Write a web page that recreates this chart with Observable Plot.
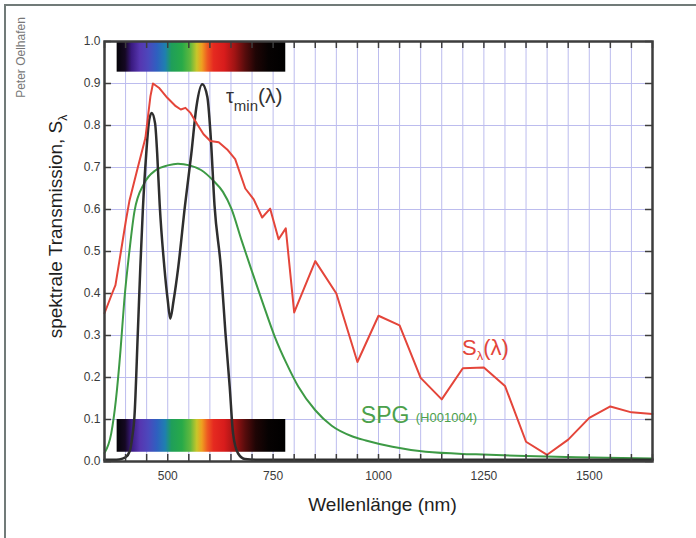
<!DOCTYPE html>
<html><head><meta charset="utf-8">
<script src="https://cdn.jsdelivr.net/npm/d3@7"></script>
<script src="https://cdn.jsdelivr.net/npm/@observablehq/plot@0.6"></script>
<style>
html,body{margin:0;padding:0;background:#fff;}
#wrap{position:relative;width:696px;height:538px;overflow:hidden;background:#fff;}
#wrap svg{position:absolute;left:0;top:0;}
#border{position:absolute;left:4px;top:4px;right:-10px;bottom:-10px;border-top:2px solid #717b79;border-left:2px solid #717b79;pointer-events:none;}
</style>
</head><body>
<div id="wrap"><div id="border"></div></div>
<script>
// ---- data ----
const redNm  = [350,368,376,389,401,409,429,447,459,465,479,499,519,531,542,554,570,585,601,621,641,660,684,704,724,743,763,780,800,850,900,950,1000,1050,1100,1150,1200,1250,1300,1350,1400,1450,1500,1550,1600,1650];
const redVal = [.353,.40,.42,.50,.575,.62,.70,.77,.87,.90,.89,.866,.846,.838,.842,.83,.803,.779,.763,.76,.743,.72,.65,.624,.581,.602,.529,.555,.355,.477,.40,.237,.347,.324,.199,.148,.222,.224,.18,.047,.016,.052,.104,.131,.117,.113];

const tauNm  = [350,385,400,410,416,421,429,435,441,449,456,462,470,475,481,492,500,506,514,525,541,556,568,582,594,602,611,626,637,647,655,667,683,720,1650];
const tauVal = [.004,.005,.01,.025,.06,.106,.305,.463,.60,.733,.813,.83,.805,.733,.61,.463,.384,.34,.384,.463,.61,.733,.844,.898,.868,.773,.61,.463,.305,.178,.067,.019,.006,.004,.004];

const spgNm  = [350,366,377,388,397,409,421,444,472,500,524,552,579,607,631,651,675,699,726,754,782,810,850,889,937,970,1033,1112,1231,1350,1469,1650];
const spgVal = [.02,.067,.146,.265,.384,.50,.595,.662,.694,.705,.709,.705,.694,.67,.642,.602,.527,.455,.376,.297,.233,.178,.122,.085,.06,.05,.035,.023,.017,.013,.01,.007];

const specNm     = [380,400,415,435,455,475,495,510,535,555,570,582,595,610,635,660,685,710,740,780];
const specColors = ["#050308","#150822","#3a1a80","#5636b0","#4c48bc","#2f5fc0","#1f7fb0","#1f9e5a","#28aa48","#62b83e","#c8c62a","#efa020","#ee5a22","#e52a20","#d81c1c","#a01414","#560c0c","#1e0505","#060202","#000000"];
const specBandsY = [[0.927,1.0],[0.022,0.1]];

const xGrid   = d3.range(350, 1651, 50);
const yGrid   = d3.range(0, 11).map(i => i / 10);
const xLabels = [500,750,1000,1250,1500];

const xTitle = "Wellenlänge (nm)";
const yTitle = "spektrale Transmission, Sλ";
const credit = "Peter Oelhafen";

const annotations = [
  {key:"tau", x:638, y:0.868, text:"τmin(λ)", color:"#333333",
   parts:[{t:"τ",s:20,sh:0},{t:"min",s:15,sh:8},{t:"(λ)",s:21,sh:0}]},
  {key:"S", x:1198, y:0.270, text:"Sλ(λ)", color:"#e4453a",
   parts:[{t:"S",s:22,sh:0},{t:"λ",s:13,sh:5},{t:"(λ)",s:22,sh:0}]},
  {key:"SPG", x:958, y:0.107, text:"SPG (H001004)", color:"#4ca14c",
   parts:[{t:"SPG ",s:23,sh:0},{t:"(H001004)",s:13,sh:-1}]}
];
const yTitleParts = [{t:"spektrale Transmission, S",s:19,sh:0},{t:"λ",s:12,sh:5}];

// ---- build ----
const red = redNm.map((x,i)=>({x, y:redVal[i]}));
const tau = tauNm.map((x,i)=>({x, y:tauVal[i]}));
const spg = spgNm.map((x,i)=>({x, y:spgVal[i]}));
const bands = specBandsY.map(([y1,y2]) => ({x1:specNm[0], x2:specNm[specNm.length-1], y1, y2}));

const W = 696, H = 538, mL = 104, mR = 44, mT = 41, mB = 77;
const innerW = W - mL - mR, innerH = H - mT - mB, tk = 7;
const gridColor = "#bcbcee";

const chart = Plot.plot({
  width: W, height: H,
  marginLeft: mL, marginRight: mR, marginTop: mT, marginBottom: mB,
  style: {fontFamily: "'Liberation Sans', Arial, sans-serif", background: "transparent", overflow: "visible"},
  x: {domain: [350, 1650]},
  y: {domain: [0, 1]},
  marks: [
    Plot.ruleX(xGrid, {stroke: gridColor, strokeWidth: 1}),
    Plot.ruleY(yGrid, {stroke: gridColor, strokeWidth: 1}),
    Plot.rect(bands, {x1:"x1", x2:"x2", y1:"y1", y2:"y2", fill: "url(#spectrum)"}),
    Plot.line(spg, {x:"x", y:"y", stroke:"#3d9a45", strokeWidth:2, curve:"monotone-x"}),
    Plot.line(tau, {x:"x", y:"y", stroke:"#2e2e2e", strokeWidth:2.5, curve:"monotone-x"}),
    Plot.line(red, {x:"x", y:"y", stroke:"#e4453a", strokeWidth:2, curve:"linear"}),
    // inward ticks
    Plot.ruleX(xGrid, {stroke:"#3d3d3d", strokeWidth:1.5, insetTop: innerH - tk}),
    Plot.ruleX(xGrid, {stroke:"#3d3d3d", strokeWidth:1.5, insetBottom: innerH - tk}),
    Plot.ruleY(yGrid, {stroke:"#3d3d3d", strokeWidth:1.5, insetRight: innerW - tk}),
    Plot.ruleY(yGrid, {stroke:"#3d3d3d", strokeWidth:1.5, insetLeft: innerW - tk}),
    Plot.frame({stroke:"#3d3d3d", strokeWidth:2.5}),
    Plot.axisX({ticks: xLabels, tickFormat: d3.format("d"), tickSize: 0, tickPadding: 10, fontSize: 12, label: null, fill: "#3a3a3a"}),
    Plot.axisY({ticks: yGrid, tickFormat: d3.format(".1f"), tickSize: 0, tickPadding: 4, fontSize: 12, label: null, fill: "#3a3a3a"}),
    Plot.text([xTitle], {frameAnchor: "bottom", textAnchor: "middle", dx: 4, dy: 43, fontSize: 19, fill: "#1e1e1e", lineAnchor: "middle"}),
    Plot.text([yTitle], {frameAnchor: "left", textAnchor: "middle", dx: -49, dy: -25, rotate: -90, fontSize: 19, fill: "#1e1e1e", lineAnchor: "middle"}),
    Plot.text([credit], {frameAnchor: "top-left", textAnchor: "middle", dx: -83, dy: 16, rotate: -90, fontSize: 12, fill: "#777", lineAnchor: "middle"}),
    Plot.text(annotations, {x:"x", y:"y", text:"text", fill:"color", textAnchor:"start", lineAnchor:"middle", fontSize: 20})
  ]
});

// gradient defs for spectrum bars
const ns = "http://www.w3.org/2000/svg";
const defs = document.createElementNS(ns, "defs");
const lg = document.createElementNS(ns, "linearGradient");
lg.setAttribute("id", "spectrum");
lg.setAttribute("x1", "0"); lg.setAttribute("x2", "1"); lg.setAttribute("y1", "0"); lg.setAttribute("y2", "0");
const n0 = specNm[0], n1 = specNm[specNm.length-1];
specNm.forEach((nm, i) => {
  const st = document.createElementNS(ns, "stop");
  st.setAttribute("offset", ((nm - n0) / (n1 - n0)).toFixed(4));
  st.setAttribute("stop-color", specColors[i]);
  lg.appendChild(st);
});
defs.appendChild(lg);
chart.insertBefore(defs, chart.firstChild);

// rich text (subscripts / mixed sizes)
function enrich(textEl, parts) {
  while (textEl.firstChild) textEl.removeChild(textEl.firstChild);
  let prev = 0;
  parts.forEach(p => {
    const ts = document.createElementNS(ns, "tspan");
    ts.textContent = p.t;
    ts.setAttribute("font-size", p.s);
    const d = p.sh - prev;
    if (d !== 0) ts.setAttribute("dy", d);
    prev = p.sh;
    textEl.appendChild(ts);
  });
}
const richMap = new Map(annotations.map(a => [a.text, a.parts]));
richMap.set(yTitle, yTitleParts);
chart.querySelectorAll("text").forEach(t => {
  const key = t.textContent;
  if (richMap.has(key)) enrich(t, richMap.get(key));
});

document.getElementById("wrap").insertBefore(chart, document.getElementById("border"));
</script>
</body></html>
